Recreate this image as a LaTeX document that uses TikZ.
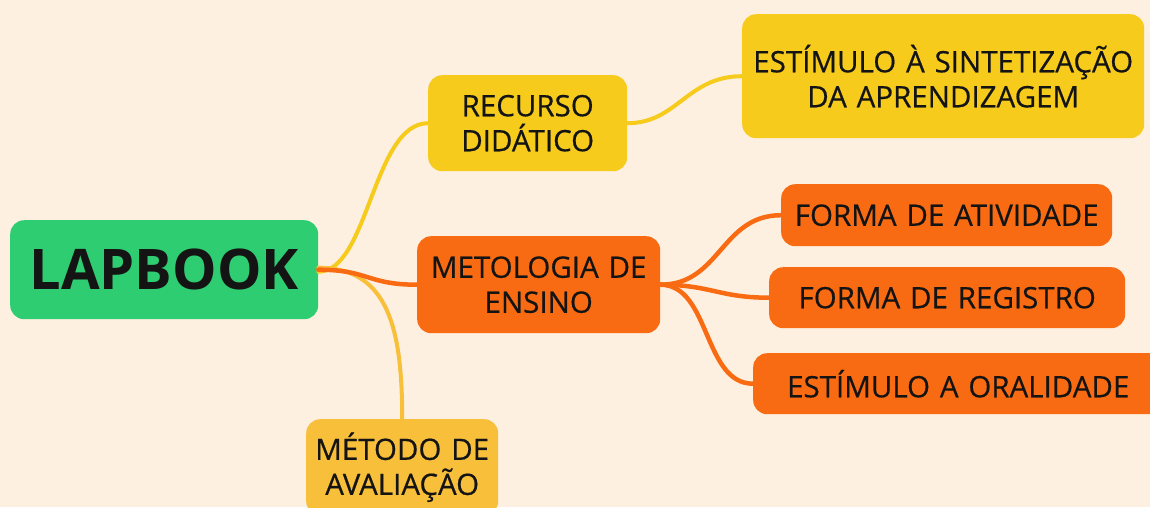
\documentclass[tikz,border=0pt]{standalone}
\usepackage{fontspec}
\setmainfont{Open Sans}
\newfontfamily\topicfont{Open Sans}[FakeBold=0.5]

\definecolor{paper}{HTML}{FEF0E0}
\definecolor{ink}{HTML}{141414}
\definecolor{leafgreen}{HTML}{2FCD72}
\definecolor{sunyellow}{HTML}{F6CB1C}
\definecolor{hotorange}{HTML}{F86B12}
\definecolor{amber}{HTML}{F8BF3A}

\newcommand*\boxradius{14pt}
\newcommand*\topicsize{\fontsize{29.5}{35}\selectfont}
\tikzset{topic/.style n args={3}{
    fill=#1,
    rectangle,
    rounded corners=\boxradius,
    anchor=north west,
    inner sep=0pt,
    text=ink,
    font=\topicfont\topicsize,
    text width=#2,
    minimum height=#3,
    align=center
}}
\tikzset{twig/.style={draw=#1, line width=4.5pt, line cap=round}}

\begin{document}
\begin{tikzpicture}[x=1pt,y=-1pt]

    % Page and background.
    \useasboundingbox (0,0) rectangle (1150,507);
    \fill[paper] (0,0) rectangle (1150,507);

    % Central topic.
    \node[topic={leafgreen}{308pt}{99pt}, font=\fontsize{56}{60}\selectfont\bfseries] (lapbook) at (10,220) {LAPBOOK};

    % First level.
    \node[topic={sunyellow}{199pt}{96pt}] (recurso) at (428,75) {RECURSO\\DID\'ATICO};
    \node[topic={hotorange}{243pt}{97pt}] (metodologia) at (417,236) {METOLOGIA DE\\ENSINO};
    \node[topic={amber}{192pt}{96pt}] (avaliacao) at (306,419) {M\'ETODO DE\\AVALIA\c{C}\~AO};

    % Second level.
    \node[topic={sunyellow}{402pt}{124pt}] (sintese) at (742,14) {EST\'IMULO \`A SINTETIZA\c{C}\~AO\\DA APRENDIZAGEM};
    \node[topic={hotorange}{331pt}{62pt}] (atividade) at (781,184) {FORMA DE ATIVIDADE};
    \node[topic={hotorange}{356pt}{61pt}] (registro) at (769,267) {FORMA DE REGISTRO};
    \node[topic={hotorange}{410pt}{61pt}] (oralidade) at (753,353) {EST\'IMULO A ORALIDADE};

    % Connectors from the centre out.
    \draw[twig=sunyellow, line width=4pt] ([yshift=-2pt]lapbook.east) .. controls +(50,0) and +(-55,0) .. (recurso.west);
    \draw[twig=amber, line width=4pt] ([yshift=2pt]lapbook.east) .. controls +(70,0) and +(0,-90) .. (avaliacao.north);
    \draw[twig=hotorange] (lapbook.east) .. controls +(50,0) and +(-50,0) .. (metodologia.west);

    \draw[twig=sunyellow, line width=4pt] (recurso.east) .. controls +(50,0) and +(-55,0) .. (sintese.west);

    \draw[twig=hotorange] (metodologia.east) .. controls +(60,0) and +(-60,0) .. (atividade.west);
    \draw[twig=hotorange] (metodologia.east) .. controls +(50,0) and +(-50,0) .. (registro.west);
    \draw[twig=hotorange] (metodologia.east) .. controls +(50,0) and +(-50,0) .. (oralidade.west);

\end{tikzpicture}
\end{document}
